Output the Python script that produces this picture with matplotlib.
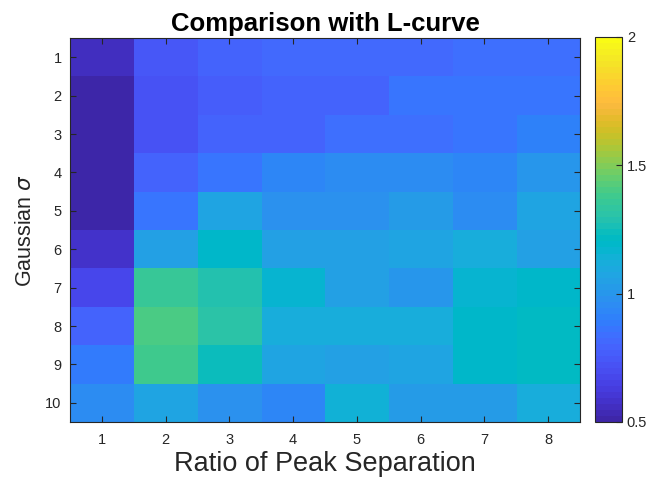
import numpy as np
import matplotlib
matplotlib.use("Agg")
import matplotlib.pyplot as plt
from matplotlib.colors import ListedColormap

# ratio of peak separation (columns) and gaussian sigma (rows)
ratios = [1, 2, 3, 4, 5, 6, 7, 8]
sigmas = [1, 2, 3, 4, 5, 6, 7, 8, 9, 10]

# one list per column (ratio), values going down sigma 1..10
col1 = [0.57, 0.48, 0.48, 0.48, 0.48, 0.58, 0.67, 0.79, 0.89, 0.95]
col2 = [0.75, 0.72, 0.72, 0.79, 0.86, 1.05, 1.36, 1.40, 1.39, 1.07]
col3 = [0.80, 0.78, 0.80, 0.87, 1.07, 1.19, 1.29, 1.31, 1.24, 0.98]
col4 = [0.81, 0.80, 0.80, 0.93, 0.99, 1.06, 1.17, 1.11, 1.07, 0.93]
col5 = [0.81, 0.79, 0.83, 0.95, 0.98, 1.06, 1.04, 1.12, 1.04, 1.14]
col6 = [0.82, 0.86, 0.85, 0.95, 1.02, 1.07, 1.00, 1.12, 1.08, 1.02]
col7 = [0.83, 0.86, 0.87, 0.93, 0.95, 1.12, 1.17, 1.20, 1.19, 1.02]
col8 = [0.83, 0.86, 0.90, 1.01, 1.07, 1.06, 1.18, 1.21, 1.21, 1.12]

# matlab parula, 64 entries
parula = ListedColormap([
    [0.2422, 0.1504, 0.6603], [0.2504, 0.1650, 0.7076], [0.2578, 0.1818, 0.7511],
    [0.2647, 0.1978, 0.7952], [0.2706, 0.2147, 0.8364], [0.2751, 0.2342, 0.8710],
    [0.2783, 0.2559, 0.8991], [0.2803, 0.2782, 0.9221], [0.2813, 0.3006, 0.9414],
    [0.2810, 0.3228, 0.9579], [0.2795, 0.3447, 0.9717], [0.2760, 0.3667, 0.9829],
    [0.2699, 0.3892, 0.9906], [0.2602, 0.4123, 0.9952], [0.2440, 0.4358, 0.9988],
    [0.2206, 0.4603, 0.9973], [0.1963, 0.4847, 0.9892], [0.1834, 0.5074, 0.9798],
    [0.1786, 0.5289, 0.9682], [0.1764, 0.5499, 0.9520], [0.1687, 0.5703, 0.9359],
    [0.1540, 0.5902, 0.9218], [0.1460, 0.6091, 0.9079], [0.1380, 0.6276, 0.8973],
    [0.1248, 0.6459, 0.8883], [0.1113, 0.6635, 0.8763], [0.0952, 0.6798, 0.8598],
    [0.0689, 0.6948, 0.8394], [0.0297, 0.7082, 0.8163], [0.0036, 0.7203, 0.7917],
    [0.0067, 0.7312, 0.7660], [0.0433, 0.7411, 0.7394], [0.0964, 0.7500, 0.7120],
    [0.1408, 0.7584, 0.6842], [0.1717, 0.7670, 0.6554], [0.1938, 0.7758, 0.6251],
    [0.2161, 0.7843, 0.5923], [0.2470, 0.7918, 0.5567], [0.2906, 0.7973, 0.5188],
    [0.3406, 0.8008, 0.4789], [0.3909, 0.8029, 0.4354], [0.4456, 0.8024, 0.3909],
    [0.5044, 0.7993, 0.3480], [0.5616, 0.7942, 0.3045], [0.6174, 0.7876, 0.2612],
    [0.6720, 0.7793, 0.2227], [0.7242, 0.7698, 0.1910], [0.7738, 0.7598, 0.1646],
    [0.8203, 0.7498, 0.1535], [0.8634, 0.7406, 0.1596], [0.9035, 0.7330, 0.1774],
    [0.9393, 0.7288, 0.2100], [0.9728, 0.7298, 0.2394], [0.9956, 0.7434, 0.2371],
    [0.9970, 0.7659, 0.2199], [0.9952, 0.7893, 0.2028], [0.9892, 0.8136, 0.1885],
    [0.9786, 0.8386, 0.1766], [0.9676, 0.8639, 0.1643], [0.9610, 0.8890, 0.1537],
    [0.9597, 0.9135, 0.1423], [0.9628, 0.9373, 0.1265], [0.9691, 0.9606, 0.1064],
    [0.9769, 0.9839, 0.0805]], name="parula")

plt.rcParams["font.family"] = ["Liberation Sans", "DejaVu Sans"]

data = np.column_stack([col1, col2, col3, col4, col5, col6, col7, col8])

fig = plt.figure(figsize=(6.54, 4.82), dpi=100)
ax = fig.add_axes([0.107, 0.1245, 0.78, 0.7965])
im = ax.imshow(data, cmap=parula, vmin=0.5, vmax=2, aspect="auto",
               interpolation="nearest",
               extent=[ratios[0] - 0.5, ratios[-1] + 0.5, sigmas[-1] + 0.5, sigmas[0] - 0.5])

ax.set_xticks(ratios)
ax.set_yticks(sigmas)
ax.tick_params(direction="in", top=True, right=True, length=4, width=0.8,
               colors="#262626", labelsize=10.5, labelcolor="#262626")
ax.tick_params(axis="x", pad=8)
ax.tick_params(axis="y", pad=6)
for s in ax.spines.values():
    s.set_color("#262626")
    s.set_linewidth(0.8)

ax.set_title("Comparison with L-curve", fontsize=18.5, fontweight="bold", pad=5)
ax.set_xlabel("Ratio of Peak Separation", fontsize=19.5, color="#262626", labelpad=3)
ax.set_ylabel("Gaussian $\\sigma$", fontsize=15.5, color="#262626", labelpad=7)

cax = fig.add_axes([0.910, 0.1245, 0.041, 0.799])
cb = fig.colorbar(im, cax=cax, ticks=[0.5, 1, 1.5, 2])
cb.ax.set_yticklabels(["0.5", "1", "1.5", "2"])
cb.ax.tick_params(direction="in", length=4, width=0.8, colors="#262626", labelsize=10.5)
cb.outline.set_edgecolor("#262626")
cb.outline.set_linewidth(0.8)

fig.savefig("out.png", dpi=100)
